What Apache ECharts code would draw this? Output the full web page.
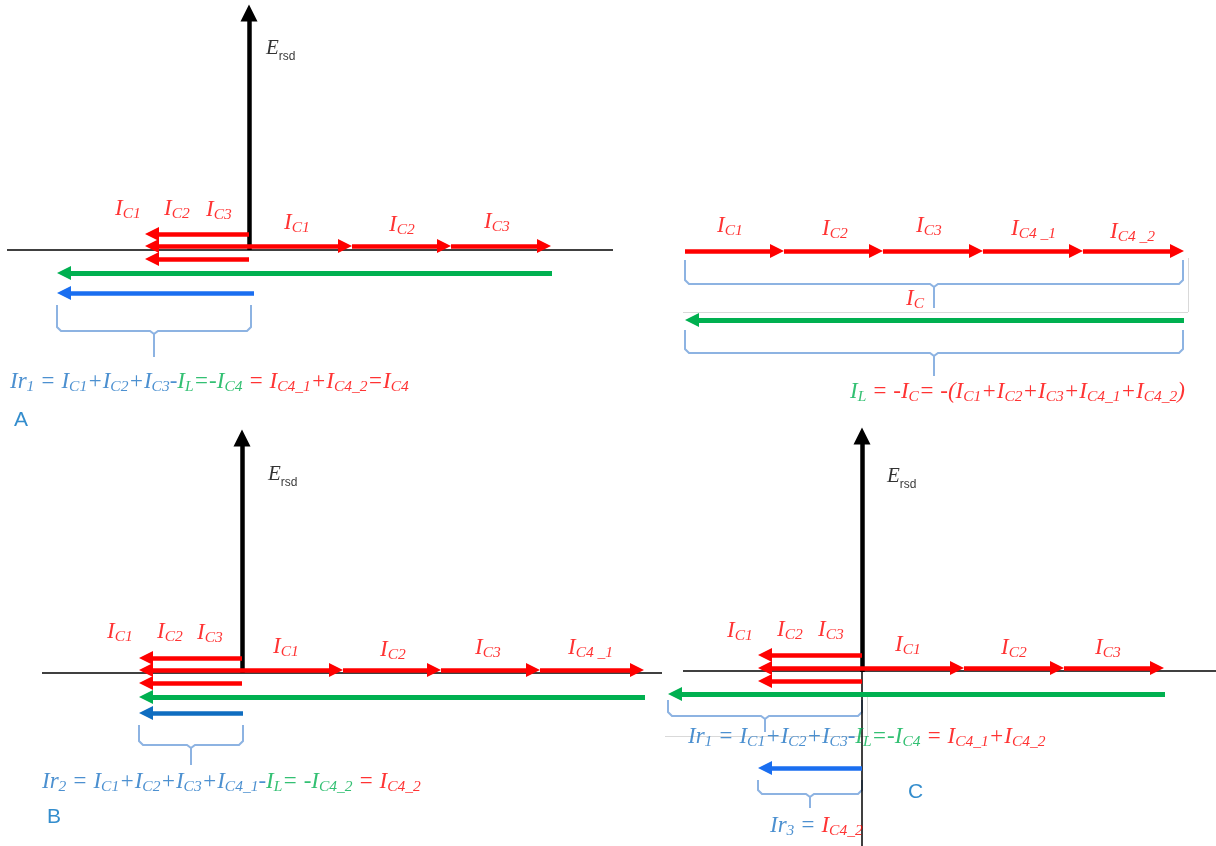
<!DOCTYPE html>
<html>
<head>
<meta charset="utf-8">
<script src="https://cdn.jsdelivr.net/npm/echarts@6/dist/echarts.min.js"></script>
<style>html,body{margin:0;padding:0;background:#fff;}#c{width:1216px;height:846px;}</style>
</head>
<body>
<div id="c"></div>
<script>
// ---- data (diagram units = picture pixels) ----
// red phasor arrows: [xStart, y, xTip]
const redArrows = [
  [249,234,145],[249,246,145],[249,259,145],
  [249,246,352],[352,246,451],[451,246,551],
  [685,251,784],[784,251,883],[883,251,983],[983,251,1083],[1083,251,1184],
  [242,658,139],[242,670,139],[242,683,139],
  [242,670,343],[343,670,441],[441,670,540],[540,670,644],
  [862,655,758],[862,668,758],[862,681,758],
  [862,668,964],[964,668,1064],[1064,668,1164]
];
// green arrows (I_L): [xStart, y, xTip]
const greenArrows = [[552,273,57],[1184,320,685],[645,697,139],[1165,694,668]];
// blue arrows (Ir): [xStart, y, xTip, colorKey]
const blueArrows = [[254,293,57,0],[243,713,139,1],[862,768,758,0]];
const blueColors = ['#1a6ef0','#0f6dc0'];
// E_rsd axes: [x, yTip, yBottom]
const vAxes = [[249,5,250],[242,430,673],[862,428,672]];
const vThin = [[862,672,846]];
// real axes: [xLeft, xRight, y]
const hAxes = [[7,613,250],[42,662,673],[683,1216,671]];
// faint grey frame lines: [x1,y1,x2,y2]
const greyLines = [[683,312,1188,312],[1188,258,1188,312],[665,736,869,736],[867,695,867,736]];
// braces: [xLeft, xRight, yTop, yTip]
const braces = [[57,251,305,357],[685,1183,260,308],[685,1183,330,376],[139,243,725,765],[668,862,700,732],[758,862,780,808]];
// red phasor labels: [xLeft, yCenter, subscript]
const redLabels = [
  [115,209,'C1'],[164,209,'C2'],[206,210,'C3'],[284,223,'C1'],[389,225,'C2'],[484,222,'C3'],
  [717,226,'C1'],[822,229,'C2'],[916,226,'C3'],[1011,229,'C4 _1'],[1110,232,'C4 _2'],[906,299,'C'],
  [107,632,'C1'],[157,632,'C2'],[197,633,'C3'],[273,647,'C1'],[380,650,'C2'],[475,648,'C3'],[568,648,'C4 _1'],
  [727,631,'C1'],[777,630,'C2'],[818,630,'C3'],[895,645,'C1'],[1001,648,'C2'],[1095,648,'C3']
];
// E_rsd labels: [xLeft, yCenter]
const eLabels = [[266,48],[268,474],[887,476]];
// panel letters: [xLeft, yCenter, letter]
const panelLetters = [[14,420,'A'],[47,817,'B'],[908,792,'C']];
// formulas: [xLeft, yCenter, rich text]
const formulas = [
  [10,382,'{b|Ir}{bs|1}{b| = I}{bs|C1}{b|+I}{bs|C2}{b|+I}{bs|C3}{b|-}{g|I}{gs|L}{g|=-I}{gs|C4}{r| = I}{rs|C4_1}{r|+I}{rs|C4_2}{r|=I}{rs|C4}'],
  [850,392,'{g|I}{gs|L}{r| = -I}{rs|C}{r|= -(I}{rs|C1}{r|+I}{rs|C2}{r|+I}{rs|C3}{r|+I}{rs|C4_1}{r|+I}{rs|C4_2}{r|)}'],
  [42,782,'{b|Ir}{bs|2}{b| = I}{bs|C1}{b|+I}{bs|C2}{b|+I}{bs|C3}{b|+I}{bs|C4_1}{b|-}{g|I}{gs|L}{g|= -I}{gs|C4_2}{r| = I}{rs|C4_2}'],
  [688,737,'{b|Ir}{bs|1}{b| = I}{bs|C1}{b|+I}{bs|C2}{b|+I}{bs|C3}{b|-}{g|I}{gs|L}{g|=-I}{gs|C4}{r| = I}{rs|C4_1}{r|+I}{rs|C4_2}'],
  [770,826,'{b|Ir}{bs|3}{b| = }{r|I}{rs|C4_2}']
];

// ---- build ----
const RED='#ff0000', GREEN='#00b050', BTXT='#1f74c4', BRACE='#8db3e2';
const serif = "'Liberation Serif','Times New Roman',serif";
const sans = "'Liberation Sans',Arial,sans-serif";
const AH = 7; // half arrow-head length
function hArrow(a){ const d = a[2] > a[0] ? 1 : -1; return [[a[0],a[1]],[a[2]-d*AH,a[1]]]; }
function braceHalves(b){
  const [x1,x2,yt,yp] = b, cx=(x1+x2)/2, ym = yt + (yp-yt)*0.5;
  return [
    [[x1,yt],[x1,ym-4],[x1+4,ym],[cx-4,ym],[cx,ym+3],[cx,yp]],
    [[x2,yt],[x2,ym-4],[x2-4,ym],[cx+4,ym],[cx,ym+3],[cx,yp]]
  ];
}
const mainSz=23, subSz=15.5;
function tok(color){ return {color, fontFamily:serif, fontStyle:'italic', fontSize:mainSz, lineHeight:26}; }
function stok(color){ return {color, fontFamily:serif, fontStyle:'italic', fontSize:subSz, lineHeight:15, verticalAlign:'bottom'}; }
const rich = {
  r:tok(RED), rs:stok(RED), g:tok(GREEN), gs:stok(GREEN), b:tok(BTXT), bs:stok(BTXT),
  e:{color:'#000', fontFamily:serif, fontStyle:'italic', fontSize:21, lineHeight:30},
  es:{color:'#000', fontFamily:sans, fontSize:12, lineHeight:12, verticalAlign:'bottom'},
  L:{color:'#0070c0', fontFamily:sans, fontSize:21, lineHeight:24}
};
const labelData = [];
redLabels.forEach(l => labelData.push({value:[l[0],l[1]], label:{formatter:'{r|I}{rs|'+l[2]+'}'}}));
eLabels.forEach(l => labelData.push({value:[l[0],l[1]], label:{formatter:'{e|E}{es|rsd}'}}));
panelLetters.forEach(l => labelData.push({value:[l[0],l[1]], label:{formatter:'{L|'+l[2]+'}'}}));
formulas.forEach(l => labelData.push({value:[l[0],l[1]], label:{formatter:l[2]}}));

const braceData = [];
braces.forEach(b => braceHalves(b).forEach(c => braceData.push({coords:c})));

const chart = echarts.init(document.getElementById('c'), null, {renderer:'canvas'});
chart.setOption({
  animation:false,
  backgroundColor:'#fff',
  grid:{left:0,right:0,top:0,bottom:0},
  xAxis:{type:'value',min:0,max:1216,show:false},
  yAxis:{type:'value',min:0,max:846,inverse:true,show:false},
  series:[
    {type:'lines',coordinateSystem:'cartesian2d',symbol:'none',silent:true,
     lineStyle:{color:'#d9d9d9',width:1,opacity:1},
     data:greyLines.map(g=>({coords:[[g[0],g[1]],[g[2],g[3]]]}))},
    {type:'lines',coordinateSystem:'cartesian2d',polyline:true,symbol:'none',silent:true,
     lineStyle:{color:BRACE,width:2,opacity:1},data:braceData},
    {type:'lines',coordinateSystem:'cartesian2d',symbol:'none',silent:true,
     lineStyle:{color:'#000',width:1.5,opacity:1},
     data:hAxes.map(h=>({coords:[[h[0],h[2]],[h[1],h[2]]]}))},
    {type:'lines',coordinateSystem:'cartesian2d',symbol:'none',silent:true,
     lineStyle:{color:'#000',width:1.5,opacity:1},
     data:vThin.map(v=>({coords:[[v[0],v[1]],[v[0],v[2]]]}))},
    {type:'lines',coordinateSystem:'cartesian2d',symbol:['none','triangle'],symbolSize:[15,17],silent:true,
     lineStyle:{color:'#000',width:4.5,opacity:1},
     data:vAxes.map(v=>({coords:[[v[0],v[2]],[v[0],v[1]+8]]}))},
    {type:'lines',coordinateSystem:'cartesian2d',symbol:['none','triangle'],symbolSize:[14,14],silent:true,
     lineStyle:{color:GREEN,width:5,opacity:1},
     data:greenArrows.map(a=>({coords:hArrow(a)}))},
    {type:'lines',coordinateSystem:'cartesian2d',symbol:['none','triangle'],symbolSize:[14,14],silent:true,
     lineStyle:{width:4.5,opacity:1},
     data:blueArrows.map(a=>({coords:hArrow(a),lineStyle:{color:blueColors[a[3]]}}))},
    {type:'lines',coordinateSystem:'cartesian2d',symbol:['none','triangle'],symbolSize:[14,14],silent:true,
     lineStyle:{color:RED,width:4.5,opacity:1},
     data:redArrows.map(a=>({coords:hArrow(a)}))},
    {type:'scatter',symbolSize:0,silent:true,
     label:{show:true,position:'right',distance:0,rich:rich},
     data:labelData}
  ]
});
</script>
</body>
</html>
